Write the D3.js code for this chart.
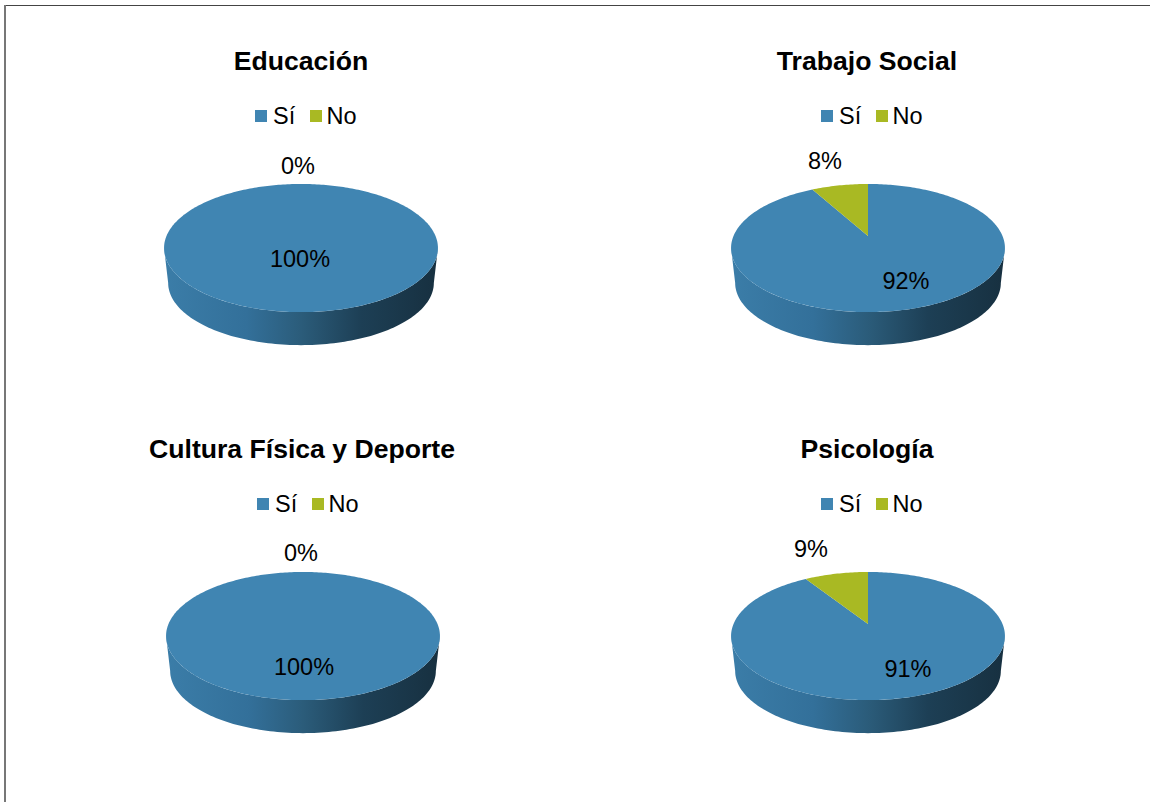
<!DOCTYPE html>
<html>
<head>
<meta charset="utf-8">
<script src="https://cdn.jsdelivr.net/npm/d3@7"></script>
<style>
  html, body { margin: 0; padding: 0; background: #fff; overflow: hidden; }
  text { font-family: "Liberation Sans", Arial, sans-serif; fill: #000; }
  .title { font-size: 26.6px; font-weight: bold; text-anchor: middle; }
  .legend { font-size: 23.5px; }
  .val { font-size: 23.5px; text-anchor: middle; }
</style>
</head>
<body>
<div id="chart"></div>
<script>
// data
var titles = ["Educación", "Trabajo Social", "Cultura Física y Deporte", "Psicología"];
var categories = ["Sí", "No"];
var si = [100, 92, 100, 91];
var no = [0, 8, 0, 9];

var colors = { "Sí": "#4085b2", "No": "#a9b923" };

// where each panel sits on the page
var layout = [
  { cx: 301, top: 184, titleX: 301, titleY: 70, legendX: 255, legendY: 116, siLabel: [300, 267], noLabel: [298, 174] },
  { cx: 868, top: 184, titleX: 867, titleY: 70, legendX: 821, legendY: 116, siLabel: [906, 289], noLabel: [825, 169] },
  { cx: 303, top: 572, titleX: 302, titleY: 458, legendX: 257, legendY: 504, siLabel: [304, 675], noLabel: [301, 561] },
  { cx: 868, top: 572, titleX: 867, titleY: 458, legendX: 821, legendY: 504, siLabel: [908, 677], noLabel: [811, 557] }
];

var width = 1150, height = 802;

var svg = d3.select("#chart").append("svg")
    .attr("width", width)
    .attr("height", height);

// frame, only top and left show in the picture
svg.append("line")
    .attr("x1", 4).attr("x2", width).attr("y1", 5.5).attr("y2", 5.5)
    .attr("stroke", "#444");
svg.append("line")
    .attr("x1", 5).attr("x2", 5).attr("y1", 5).attr("y2", height)
    .attr("stroke", "#777")
    .attr("stroke-width", 2);

var defs = svg.append("defs");
var grad = defs.append("linearGradient").attr("id", "sideGrad");
grad.append("stop").attr("offset", "0%").attr("stop-color", "#3b7da8");
grad.append("stop").attr("offset", "30%").attr("stop-color", "#33709a");
grad.append("stop").attr("offset", "50%").attr("stop-color", "#2b5c7a");
grad.append("stop").attr("offset", "72%").attr("stop-color", "#1d3f55");
grad.append("stop").attr("offset", "100%").attr("stop-color", "#173040");

// tilted disc in perspective, far side shrinks
var k = 0.188, A = 134.5, B = 61.8, backRise = 52, depth = 35.3, lowerScale = 0.97;

function project(a, cx, cy) {
  var u = Math.sin(a), v = Math.cos(a), w = 1 + k * v;
  return [cx + A * u / w, cy - B * v / w];
}

var line = d3.line();
var pie = d3.pie().sort(null).value(function(d) { return d.value; });

function sector(start, end, cx, cy) {
  var n = Math.max(2, Math.ceil((end - start) / 0.02));
  var pts = d3.range(n + 1).map(function(i) {
    return project(start + (end - start) * i / n, cx, cy);
  });
  if (end - start < 2 * Math.PI - 1e-6) pts.push([cx, cy]);
  return line(pts) + "Z";
}

// wall runs between the rim and a slightly smaller rim below it
function sideWall(cx, cy) {
  var a0 = Math.acos(-k), a1 = 2 * Math.PI - a0, n = 120;
  var upper = d3.range(n + 1).map(function(i) {
    return project(a0 + (a1 - a0) * i / n, cx, cy);
  });
  var lower = upper.slice().reverse().map(function(p) {
    return [cx + (p[0] - cx) * lowerScale, cy + (p[1] - cy) * lowerScale + depth];
  });
  return line(upper.concat(lower)) + "Z";
}

layout.forEach(function(p, i) {
  var g = svg.append("g");
  var cy = p.top + backRise;
  var rows = [
    { key: categories[0], value: si[i] },
    { key: categories[1], value: no[i] }
  ];

  g.append("text").attr("class", "title")
      .attr("x", p.titleX).attr("y", p.titleY)
      .text(titles[i]);

  // legend
  var sq = 12, x0 = p.legendX;
  categories.forEach(function(c, j) {
    var off = j * 55;
    g.append("rect")
        .attr("x", x0 + off).attr("y", p.legendY - sq / 2)
        .attr("width", sq).attr("height", sq)
        .attr("fill", colors[c]);
    g.append("text").attr("class", "legend")
        .attr("x", x0 + off + 18 - j * 1.5).attr("y", p.legendY + 8)
        .text(c);
  });

  g.append("path").attr("d", sideWall(p.cx, cy)).attr("fill", "url(#sideGrad)");

  g.selectAll("path.slice")
    .data(pie(rows).filter(function(d) { return d.value > 0; }))
    .enter().append("path")
      .attr("class", "slice")
      .attr("d", function(d) { return sector(d.startAngle, d.endAngle, p.cx, cy); })
      .attr("fill", function(d) { return colors[d.data.key]; });

  g.append("text").attr("class", "val")
      .attr("x", p.siLabel[0]).attr("y", p.siLabel[1])
      .text(si[i] + "%");
  g.append("text").attr("class", "val")
      .attr("x", p.noLabel[0]).attr("y", p.noLabel[1])
      .text(no[i] + "%");
});
</script>
</body>
</html>
